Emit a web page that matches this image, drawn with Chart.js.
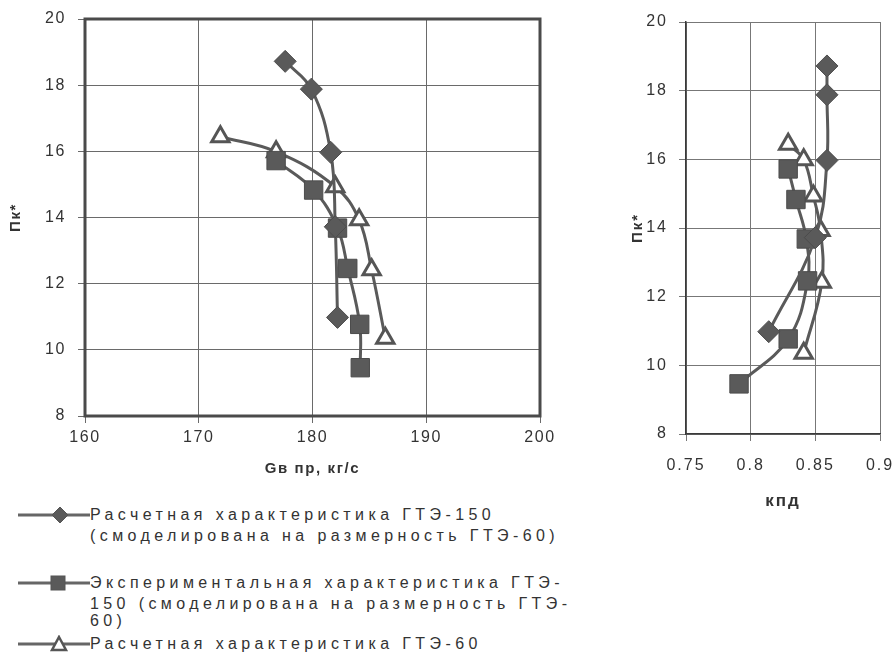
<!DOCTYPE html>
<html>
<head>
<meta charset="utf-8">
<script src="https://cdn.jsdelivr.net/npm/chart.js@4"></script>
<style>
  html, body { margin: 0; padding: 0; background: #fff; }
  body { width: 894px; height: 655px; position: relative; overflow: hidden;
         font-family: 'Liberation Sans', Arial, sans-serif; color: #333; }
  canvas { position: absolute; }
  #flow { left: 0; top: 0; }
  #eff { left: 600px; top: 0; }
  .lg { position: absolute; left: 90px; font-size: 16px; line-height: 18px;
        letter-spacing: 4.4px; white-space: nowrap; color: #333; }
  .ic { position: absolute; left: 14px; }
</style>
</head>
<body>
<canvas id="flow" width="570" height="500"></canvas>
<canvas id="eff" width="294" height="530"></canvas>

<svg class="ic" style="top:506px" width="80" height="18">
  <line x1="4" y1="9" x2="76" y2="9" stroke="#666" stroke-width="3"/>
  <polygon points="46,1 54,9 46,17 38,9" fill="#5a5a5a" stroke="#555" stroke-width="1"/>
</svg>
<div class="lg" style="top:506px">Расчетная характеристика ГТЭ-150</div>
<div class="lg" style="top:527px">(смоделирована на размерность ГТЭ-60)</div>

<svg class="ic" style="top:574px" width="80" height="18">
  <line x1="4" y1="9" x2="76" y2="9" stroke="#666" stroke-width="3"/>
  <rect x="37" y="2" width="14" height="14" fill="#5a5a5a" stroke="#555" stroke-width="1"/>
</svg>
<div class="lg" style="top:574px">Экспериментальная характеристика ГТЭ-</div>
<div class="lg" style="top:595px">150 (смоделирована на размерность ГТЭ-</div>
<div class="lg" style="top:612px">60)</div>

<svg class="ic" style="top:635px" width="80" height="18">
  <line x1="4" y1="9" x2="76" y2="9" stroke="#666" stroke-width="3"/>
  <polygon points="45,2 52,15 38,15" fill="#fff" stroke="#555" stroke-width="2.5"/>
</svg>
<div class="lg" style="top:635px">Расчетная характеристика ГТЭ-60</div>

<script>
// Pressure ratio Пк* for each test point
const pkCalc150 = [18.72, 17.88, 15.97, 13.72, 10.98];
const pkExp150  = [15.72, 14.83, 13.68, 12.46, 10.77, 9.46];
const pkCalc60  = [16.44, 15.99, 14.93, 13.93, 12.42, 10.35];

// Reduced air flow Gв пр, kg/s
const gbCalc150 = [177.6, 179.9, 181.6, 182.0, 182.2];
const gbExp150  = [176.8, 180.1, 182.2, 183.1, 184.15, 184.2];
const gbCalc60  = [171.9, 176.8, 182.0, 184.1, 185.2, 186.4];

// Compressor efficiency (КПД)
const kpdCalc150 = [0.859, 0.859, 0.859, 0.850, 0.814];
const kpdExp150  = [0.829, 0.835, 0.843, 0.844, 0.829, 0.791];
const kpdCalc60  = [0.829, 0.841, 0.8485, 0.854, 0.855, 0.841];

// Axis ranges and ticks
const flowTicks = [160, 170, 180, 190, 200];
const effTicks  = [0.75, 0.8, 0.85, 0.9];
const pkTicks   = [8, 10, 12, 14, 16, 18, 20];

const seriesNames = [
  'Расчетная характеристика ГТЭ-150 (смоделирована на размерность ГТЭ-60)',
  'Экспериментальная характеристика ГТЭ-150 (смоделирована на размерность ГТЭ-60)',
  'Расчетная характеристика ГТЭ-60'
];

const pairs = (xs, ys) => xs.map((x, i) => ({ x, y: ys[i] }));

const FONT = "'Liberation Sans', Arial, sans-serif";
const INK = '#333';
const LINE = '#5a5a5a';

function makeSets(x1, x2, x3) {
  return [
    { label: seriesNames[0], data: pairs(x1, pkCalc150), pointStyle: 'rectRot',
      pointRadius: 11, pointBackgroundColor: '#5a5a5a', pointBorderColor: '#4c4c4c', pointBorderWidth: 1 },
    { label: seriesNames[1], data: pairs(x2, pkExp150), pointStyle: 'rect',
      pointRadius: 13, pointBackgroundColor: '#5a5a5a', pointBorderColor: '#4c4c4c', pointBorderWidth: 1 },
    { label: seriesNames[2], data: pairs(x3, pkCalc60), pointStyle: 'triangle',
      pointRadius: 10, pointBackgroundColor: '#ffffff', pointBorderColor: '#555', pointBorderWidth: 3 }
  ].map(d => Object.assign({
    showLine: true, borderColor: LINE, borderWidth: 3, tension: 0.4,
    pointHoverRadius: d.pointRadius, clip: false
  }, d));
}

// Canvas text spacing, applied before measuring and drawing
const spacing = px => ({
  id: 'spacing',
  beforeUpdate(c) { c.ctx.letterSpacing = px; },
  beforeLayout(c) { c.ctx.letterSpacing = px; },
  beforeDraw(c) { c.ctx.letterSpacing = px; }
});

// Heavy frame around the flow chart's plot area
const frame = {
  id: 'frame',
  afterDraw(c) {
    const a = c.chartArea, ctx = c.ctx;
    ctx.save();
    ctx.strokeStyle = '#4a4a4a';
    ctx.lineWidth = 3;
    ctx.strokeRect(a.left, a.top, a.right - a.left, a.bottom - a.top);
    ctx.restore();
  }
};

const fixedTicks = list => function (scale) {
  scale.ticks = list.map(v => ({ value: v }));
};

const tickFont = { family: FONT, size: 16 };
const titleFont = { family: FONT, size: 15, weight: 'bold' };

new Chart(document.getElementById('flow'), {
  type: 'scatter',
  data: { datasets: makeSets(gbCalc150, gbExp150, gbCalc60) },
  options: {
    responsive: false, animation: false, events: [],
    layout: { padding: { top: 19, right: 30, left: 0, bottom: 0 } },
    plugins: { legend: { display: false }, tooltip: { enabled: false } },
    scales: {
      x: {
        type: 'linear', min: 160, max: 200,
        afterBuildTicks: fixedTicks(flowTicks),
        ticks: { font: tickFont, color: INK, padding: 5, maxRotation: 0 },
        grid: { color: '#6a6a6a', lineWidth: 1, tickLength: 7 },
        border: { display: false },
        title: { display: true, text: 'Gв пр, кг/с', font: titleFont, color: INK,
                 padding: { top: 0, bottom: 22 } },
        afterFit(s) { s.height = 84; s.paddingLeft = 0; s.paddingRight = 0; }
      },
      y: {
        type: 'linear', min: 8, max: 20,
        afterBuildTicks: fixedTicks(pkTicks),
        ticks: { font: tickFont, color: INK, padding: 12 },
        grid: { color: '#6a6a6a', lineWidth: 1, tickLength: 7 },
        border: { display: false },
        title: { display: true, text: 'Пк*', font: titleFont, color: INK,
                 padding: { top: 7, bottom: 0 } },
        afterFit(s) { s.width = 85; s.paddingTop = 0; s.paddingBottom = 0; }
      }
    }
  },
  plugins: [spacing('1.6px'), frame]
});

new Chart(document.getElementById('eff'), {
  type: 'scatter',
  data: { datasets: makeSets(kpdCalc150, kpdExp150, kpdCalc60) },
  options: {
    responsive: false, animation: false, events: [],
    layout: { padding: { top: 22, right: 8, left: 0, bottom: 0 } },
    plugins: { legend: { display: false }, tooltip: { enabled: false } },
    scales: {
      x: {
        type: 'linear', min: 0.75, max: 0.9,
        afterBuildTicks: fixedTicks(effTicks),
        ticks: { font: tickFont, color: INK, padding: 15, maxRotation: 0,
                 callback: v => String(Math.round(v * 100) / 100) },
        grid: { color: '#777', lineWidth: 1, tickLength: 7 },
        border: { display: true, color: '#3a3a3a', width: 1.5 },
        title: { display: true, text: 'кпд', font: { family: FONT, size: 17, weight: 'bold' },
                 color: INK, padding: { top: 0, bottom: 18 } },
        afterFit(s) { s.height = 96; s.paddingLeft = 0; s.paddingRight = 0; }
      },
      y: {
        type: 'linear', min: 8, max: 20,
        afterBuildTicks: fixedTicks(pkTicks),
        ticks: { font: tickFont, color: INK, padding: 11 },
        grid: { color: '#777', lineWidth: 1, tickLength: 7 },
        border: { display: true, color: '#3a3a3a', width: 1.5 },
        title: { display: true, text: 'Пк*', font: titleFont, color: INK,
                 padding: { top: 29, bottom: 0 } },
        afterFit(s) { s.width = 86; s.paddingTop = 0; s.paddingBottom = 0; }
      }
    }
  },
  plugins: [spacing('2px')]
});
</script>
</body>
</html>
